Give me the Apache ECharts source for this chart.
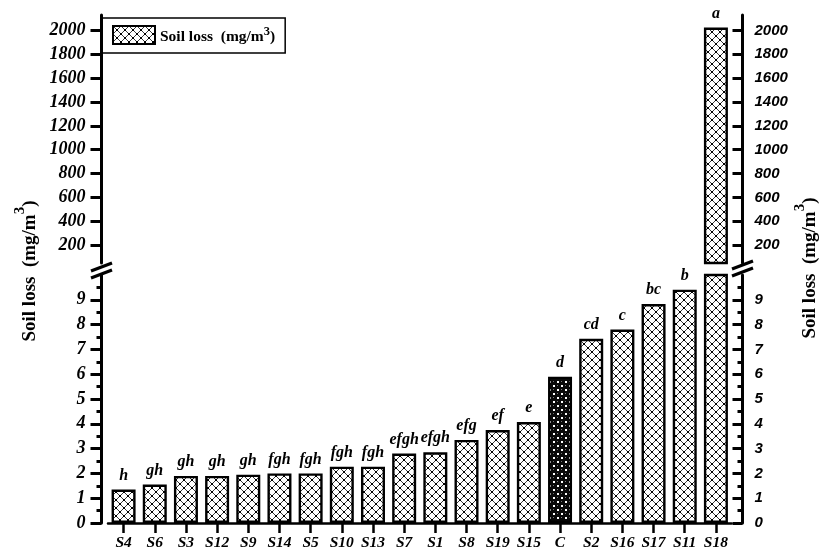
<!DOCTYPE html>
<html>
<head>
<meta charset="utf-8">
<script src="https://cdn.jsdelivr.net/npm/echarts@6/dist/echarts.min.js"></script>
<style>
  html, body { margin: 0; padding: 0; background: #fff; }
  #chart { width: 825px; height: 553px; }
</style>
</head>
<body>
<div id="chart"></div>
<script>
// Treatments, ordered by increasing soil loss
const categories = ['S4', 'S6', 'S3', 'S12', 'S9', 'S14', 'S5', 'S10', 'S13', 'S7',
                    'S1', 'S8', 'S19', 'S15', 'C', 'S2', 'S16', 'S17', 'S11', 'S18'];
// Soil loss (mg/m3)
const soilLoss = [1.35, 1.55, 1.9, 1.9, 1.95, 2.0, 2.0, 2.27, 2.27, 2.8,
                  2.85, 3.35, 3.75, 4.07, 5.9, 7.43, 7.8, 8.83, 9.41, 2025];
// Significance groups
const groupLetters = ['h', 'gh', 'gh', 'gh', 'gh', 'fgh', 'fgh', 'fgh', 'fgh', 'efgh',
                      'efgh', 'efg', 'ef', 'e', 'd', 'cd', 'c', 'bc', 'b', 'a'];
const controlName = 'C';

// Broken value axis: two ranges
const lowerTicks = [0, 1, 2, 3, 4, 5, 6, 7, 8, 9];
const upperTicks = [200, 400, 600, 800, 1000, 1200, 1400, 1600, 1800, 2000];
const LOWER_MIN = 0, LOWER_MAX = 10;
const UPPER_MIN = 50, UPPER_MAX = 2130;

const SERIF = '"Liberation Serif", "Times New Roman", serif';
const SANS = '"Liberation Sans", Arial, sans-serif';

function makePattern(dark) {
  const c = document.createElement('canvas');
  c.width = 8; c.height = 8;
  const g = c.getContext('2d');
  if (dark) {
    g.fillStyle = '#0a0a0a';
    g.fillRect(0, 0, 8, 8);
    g.fillStyle = '#ffffff';
    g.fillRect(1, 1, 2, 2);
    g.fillRect(5, 5, 2, 2);
    g.fillStyle = '#777';
    g.fillRect(1, 5, 1, 1);
    g.fillRect(5, 1, 1, 1);
  } else {
    g.fillStyle = '#ffffff';
    g.fillRect(0, 0, 8, 8);
    g.strokeStyle = '#3a3a3a';
    g.lineWidth = 1;
    g.beginPath();
    g.moveTo(-1, -1); g.lineTo(9, 9);
    g.moveTo(9, -1); g.lineTo(-1, 9);
    g.stroke();
    g.fillStyle = '#000';
    g.fillRect(3, 3, 2, 2);
    g.fillRect(0, 0, 1, 1); g.fillRect(7, 0, 1, 1);
    g.fillRect(0, 7, 1, 1); g.fillRect(7, 7, 1, 1);
  }
  return c;
}

const hatch = { image: makePattern(false), repeat: 'repeat' };
const dense = { image: makePattern(true), repeat: 'repeat' };

const SERIES_NAME = 'Soil loss';
const titleRich = {
  a: { fontFamily: SERIF, fontWeight: 'bold', fontSize: 19, color: '#000', lineHeight: 22, verticalAlign: 'bottom' },
  s: { fontFamily: SERIF, fontWeight: 'bold', fontSize: 15, color: '#000', lineHeight: 27, verticalAlign: 'top' }
};
const titleText = '{a|Soil loss  (mg/m}{s|3}{a|)}';
const plainNumber = v => String(v);

const lowerData = soilLoss.map((v, i) => ({
  value: v,
  itemStyle: categories[i] === controlName ? { color: dense } : undefined
}));
const upperData = soilLoss.map(v => (v > LOWER_MAX ? v : '-'));

const letterLabel = {
  show: true,
  position: 'top',
  distance: 6,
  fontFamily: SERIF,
  fontWeight: 'bold',
  fontStyle: 'italic',
  fontSize: 16,
  color: '#000'
};

const gridL = 108, gridR = 825 - 731.5;

const option = {
  animation: false,
  backgroundColor: '#fff',
  grid: [
    { left: gridL, right: gridR, top: 15, height: 248 },
    { left: gridL, right: gridR, top: 275, height: 248 }
  ],
  legend: {
    data: [SERIES_NAME],
    left: 102,
    top: 18,
    orient: 'horizontal',
    icon: 'rect',
    itemWidth: 42,
    itemHeight: 18,
    itemGap: 8,
    padding: [7, 10, 8, 10],
    borderColor: '#000',
    borderWidth: 1.5,
    borderRadius: 0,
    formatter: () => '{a|Soil loss  (mg/m}{s|3}{a|)}',
    textStyle: {
      rich: {
        a: { fontFamily: SERIF, fontWeight: 'bold', fontSize: 15.5, color: '#000', lineHeight: 18, verticalAlign: 'bottom' },
        s: { fontFamily: SERIF, fontWeight: 'bold', fontSize: 12.5, color: '#000', lineHeight: 20, verticalAlign: 'top' }
      }
    }
  },
  xAxis: [
    {
      type: 'category', gridIndex: 0, data: categories, show: false
    },
    {
      type: 'category', gridIndex: 1, data: categories,
      axisLine: { show: true, lineStyle: { color: '#000', width: 2.5 } },
      axisTick: { show: true, alignWithLabel: true, length: 10, lineStyle: { color: '#000', width: 2.5 } },
      axisLabel: {
        margin: 12, fontFamily: SERIF, fontWeight: 'bold', fontStyle: 'italic',
        fontSize: 15.5, color: '#000', interval: 0
      }
    }
  ],
  yAxis: [
    // upper range, left
    {
      type: 'value', gridIndex: 0, position: 'left', offset: 6.5,
      min: UPPER_MIN, max: UPPER_MAX,
      splitLine: { show: false },
      axisLine: { show: true, onZero: false, lineStyle: { color: '#000', width: 3 } },
      axisTick: { show: true, inside: false, length: 11, customValues: upperTicks, lineStyle: { color: '#000', width: 3 } },
      axisLabel: {
        customValues: upperTicks, formatter: plainNumber, margin: 16, fontFamily: SERIF, fontWeight: 'bold',
        fontStyle: 'italic', fontSize: 18, color: '#000'
      }
    },
    // upper range, right
    {
      type: 'value', gridIndex: 0, position: 'right', offset: 11,
      min: UPPER_MIN, max: UPPER_MAX,
      splitLine: { show: false },
      axisLine: { show: true, onZero: false, lineStyle: { color: '#000', width: 3 } },
      axisTick: { show: true, inside: true, length: 10, customValues: upperTicks, lineStyle: { color: '#000', width: 3 } },
      axisLabel: {
        customValues: upperTicks, formatter: plainNumber, margin: 12, fontFamily: SANS, fontWeight: 'bold',
        fontStyle: 'italic', fontSize: 15, color: '#000'
      }
    },
    // lower range, left
    {
      type: 'value', gridIndex: 1, position: 'left', offset: 6.5,
      min: LOWER_MIN, max: LOWER_MAX, interval: 1,
      splitLine: { show: false },
      axisLine: { show: true, onZero: false, lineStyle: { color: '#000', width: 3 } },
      axisTick: { show: true, inside: false, length: 11, customValues: lowerTicks, lineStyle: { color: '#000', width: 3 } },
      minorTick: { show: true, splitNumber: 2, length: 5, lineStyle: { color: '#000', width: 3 } },
      axisLabel: {
        customValues: lowerTicks, formatter: plainNumber, margin: 16, fontFamily: SERIF, fontWeight: 'bold',
        fontStyle: 'italic', fontSize: 18, color: '#000'
      }
    },
    // lower range, right
    {
      type: 'value', gridIndex: 1, position: 'right', offset: 11,
      min: LOWER_MIN, max: LOWER_MAX, interval: 1,
      splitLine: { show: false },
      axisLine: { show: true, onZero: false, lineStyle: { color: '#000', width: 3 } },
      axisTick: { show: true, inside: true, length: 10, customValues: lowerTicks, lineStyle: { color: '#000', width: 3 } },
      minorTick: { show: true, splitNumber: 2, length: 5, lineStyle: { color: '#000', width: 3 } },
      axisLabel: {
        customValues: lowerTicks, formatter: plainNumber, margin: 12, fontFamily: SANS, fontWeight: 'bold',
        fontStyle: 'italic', fontSize: 15, color: '#000'
      }
    }
  ],
  series: [
    {
      name: SERIES_NAME, type: 'bar', xAxisIndex: 1, yAxisIndex: 2,
      data: lowerData, barWidth: 24, clip: true,
      itemStyle: { color: hatch, borderColor: '#000', borderWidth: 2.4 },
      label: Object.assign({}, letterLabel, {
        formatter: p => (soilLoss[p.dataIndex] > LOWER_MAX ? '' : groupLetters[p.dataIndex])
      })
    },
    {
      name: SERIES_NAME, type: 'bar', xAxisIndex: 0, yAxisIndex: 0,
      data: upperData, barWidth: 24, clip: true,
      itemStyle: { color: hatch, borderColor: '#000', borderWidth: 2.4 },
      label: Object.assign({}, letterLabel, {
        formatter: p => groupLetters[p.dataIndex]
      })
    }
  ],
  graphic: [
    // axis break marks
    { type: 'line', shape: { x1: 91, y1: 271, x2: 112, y2: 263 }, style: { stroke: '#000', lineWidth: 3 }, z: 100 },
    { type: 'line', shape: { x1: 91, y1: 278, x2: 112, y2: 270 }, style: { stroke: '#000', lineWidth: 3 }, z: 100 },
    { type: 'line', shape: { x1: 732, y1: 269, x2: 753, y2: 261 }, style: { stroke: '#000', lineWidth: 3 }, z: 100 },
    { type: 'line', shape: { x1: 732, y1: 276, x2: 753, y2: 268 }, style: { stroke: '#000', lineWidth: 3 }, z: 100 },
    // axis titles
    {
      type: 'text', x: 26, y: 271, rotation: Math.PI / 2,
      style: { text: titleText, rich: titleRich, align: 'center', verticalAlign: 'middle' }
    },
    {
      type: 'text', x: 806, y: 268, rotation: Math.PI / 2,
      style: { text: titleText, rich: titleRich, align: 'center', verticalAlign: 'middle' }
    }
  ]
};

const chart = echarts.init(document.getElementById('chart'), null, { renderer: 'canvas' });
chart.setOption(option);
</script>
</body>
</html>
